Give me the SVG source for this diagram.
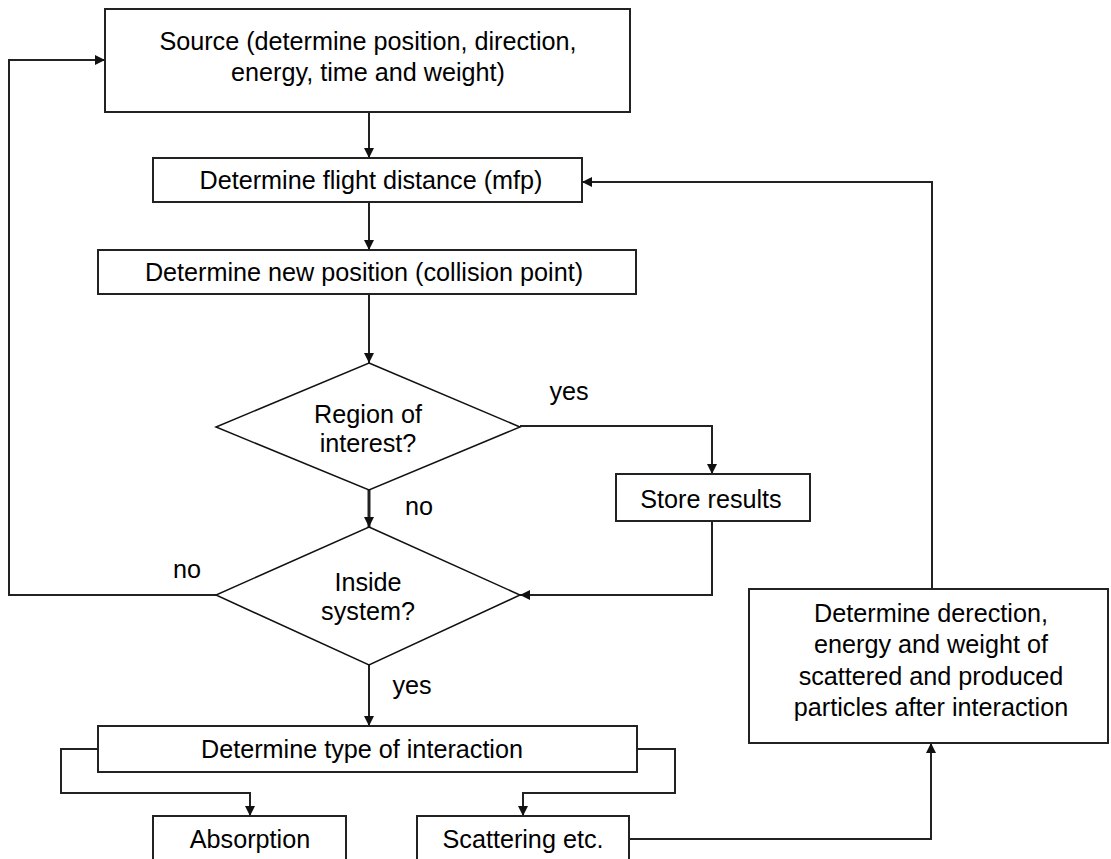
<svg xmlns="http://www.w3.org/2000/svg" width="1111" height="859" viewBox="0 0 1111 859">
<style>
.box{fill:#fff;stroke:#222;stroke-width:2}
.dia{fill:#fff;stroke:#111;stroke-width:1.5}
.t{font-family:"Liberation Sans",Arial,sans-serif;font-size:25.2px;fill:#000;text-anchor:middle}
.c{fill:none;stroke:#222;stroke-width:2}
</style>
<defs>
<marker id="ah" viewBox="0 0 10 10" refX="10" refY="5" markerWidth="11" markerHeight="10" markerUnits="userSpaceOnUse" orient="auto">
<path d="M0,0 L10,5 L0,10 z" fill="#111"/>
</marker>
</defs>
<rect width="1111" height="859" fill="#fff"/>
<g id="connectors">
<path class="c" d="M369 112 V158" marker-end="url(#ah)"/>
<path class="c" d="M369 202 V250" marker-end="url(#ah)"/>
<path class="c" d="M369 294 V363" marker-end="url(#ah)"/>
<path class="c" d="M369 490 V527" style="stroke-width:3" marker-end="url(#ah)"/>
<path class="c" d="M520 426 H712 V474" marker-end="url(#ah)"/>
<path class="c" d="M712 521 V595 H520" marker-end="url(#ah)"/>
<path class="c" d="M216 595 H9 V60 H105" marker-end="url(#ah)"/>
<path class="c" d="M369 665 V726" marker-end="url(#ah)"/>
<path class="c" d="M98 749 H61 V793 H250 V816" marker-end="url(#ah)"/>
<path class="c" d="M637 749 H675 V793 H523 V816" marker-end="url(#ah)"/>
<path class="c" d="M629 839 H931 V743" marker-end="url(#ah)"/>
<path class="c" d="M932 589 V182 H582" marker-end="url(#ah)"/>
</g>
<g id="source">
<rect class="box" x="105" y="9" width="525" height="103"/>
<text class="t" x="368" y="50">Source (determine position, direction,</text>
<text class="t" x="368" y="81">energy, time and weight)</text>
</g>
<g id="flight">
<rect class="box" x="153" y="158" width="429" height="44"/>
<text class="t" x="371" y="189">Determine flight distance (mfp)</text>
</g>
<g id="newpos">
<rect class="box" x="98" y="250" width="538" height="44"/>
<text class="t" x="364" y="281">Determine new position (collision point)</text>
</g>
<g id="region">
<polygon class="dia" points="369,363 520,427 369,490 216,427"/>
<text class="t" x="368" y="423">Region of</text>
<text class="t" x="368" y="452">interest?</text>
</g>
<g id="store">
<rect class="box" x="616" y="474" width="194" height="47"/>
<text class="t" x="711" y="508">Store results</text>
</g>
<g id="inside">
<polygon class="dia" points="369,527 520,595 369,665 216,595"/>
<text class="t" x="368" y="591">Inside</text>
<text class="t" x="368" y="620">system?</text>
</g>
<g id="interaction">
<rect class="box" x="98" y="726" width="539" height="46"/>
<text class="t" x="362" y="758">Determine type of interaction</text>
</g>
<g id="absorption">
<rect class="box" x="153" y="816" width="193" height="50"/>
<text class="t" x="250" y="848">Absorption</text>
</g>
<g id="scattering">
<rect class="box" x="417" y="816" width="212" height="50"/>
<text class="t" x="523" y="848">Scattering etc.</text>
</g>
<g id="after">
<rect class="box" x="749" y="589" width="359" height="154"/>
<text class="t" x="931" y="622">Determine derection,</text>
<text class="t" x="931" y="653">energy and weight of</text>
<text class="t" x="931" y="685">scattered and produced</text>
<text class="t" x="931" y="716">particles after interaction</text>
</g>
<g id="labels">
<text class="t" x="569" y="400">yes</text>
<text class="t" x="419" y="515">no</text>
<text class="t" x="187" y="578">no</text>
<text class="t" x="412" y="694">yes</text>
</g>
</svg>
